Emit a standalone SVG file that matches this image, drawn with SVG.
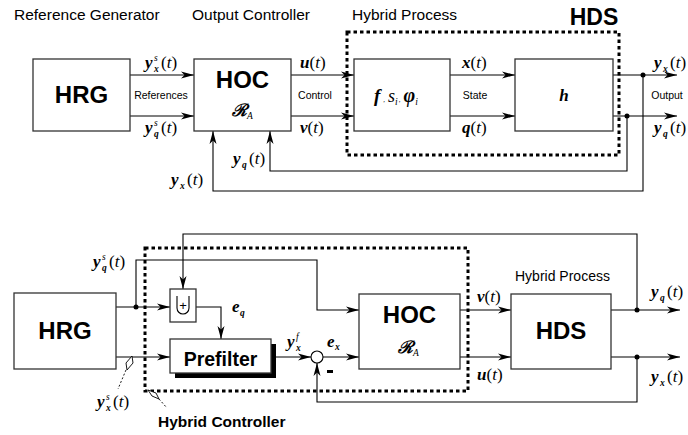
<svg xmlns="http://www.w3.org/2000/svg" width="688" height="435" viewBox="0 0 688 435">
<style>
.box{fill:#fff;stroke:#333;stroke-width:1.3}
.ln{fill:none;stroke:#000;stroke-width:1.1}
.arr{marker-end:url(#ah)}
.dash{fill:none;stroke:#000;stroke-width:3;stroke-dasharray:3.5 3}
.t{font-family:"Liberation Sans",Arial,sans-serif;fill:#000}
.h1{font-family:"Liberation Sans",Arial,sans-serif;font-weight:bold;font-size:24px;text-anchor:middle}
.sm{font-family:"Liberation Sans",Arial,sans-serif;font-size:10.5px;text-anchor:middle}
.m{font-family:"Liberation Serif","Times New Roman",serif;font-size:17px}
.v{font-weight:bold;font-style:italic}
.i{font-style:italic}
.s{font-family:"Liberation Serif","Times New Roman",serif;font-size:9.5px;font-style:italic}
.cal{font-family:"DejaVu Serif","Liberation Serif",serif;font-size:17px;font-weight:bold;font-style:italic}
.dot{fill:#000}
.ptr{fill:#fff;stroke:#000;stroke-width:0.9}
.lead{fill:none;stroke:#000;stroke-width:0.9;stroke-dasharray:2 2}
</style>
<defs>
<marker id="ah" markerWidth="14" markerHeight="8" refX="13" refY="4" orient="auto" markerUnits="userSpaceOnUse">
<path d="M0,0.5 L13,4 L0,7.5 L3.5,4 Z" fill="#000"/>
</marker>
</defs>

<!-- ============ TOP DIAGRAM ============ -->
<g id="titles-top">
<text class="t" x="14" y="20" font-size="15.5">Reference Generator</text>
<text class="t" x="192" y="20" font-size="15.5">Output Controller</text>
<text class="t" x="352" y="20" font-size="15.5">Hybrid Process</text>
<text class="t" x="594" y="25" font-size="23" font-weight="bold" text-anchor="middle">HDS</text>
</g>

<g id="hds-boundary-top">
<rect class="dash" x="347" y="32" width="272" height="123"/>
</g>

<g id="connectors-top">
<line class="ln arr" x1="130" y1="75" x2="194" y2="75"/>
<line class="ln arr" x1="130" y1="116" x2="194" y2="116"/>
<line class="ln arr" x1="291" y1="75" x2="354" y2="75"/>
<line class="ln arr" x1="291" y1="116" x2="354" y2="116"/>
<line class="ln arr" x1="450" y1="75" x2="515" y2="75"/>
<line class="ln arr" x1="450" y1="116" x2="515" y2="116"/>
<line class="ln arr" x1="613" y1="75" x2="677" y2="75"/>
<line class="ln arr" x1="613" y1="116" x2="677" y2="116"/>
<polyline class="ln arr" points="627,116 627,171 270,171 270,131"/>
<polyline class="ln arr" points="643,75 643,191 213,191 213,131"/>
<circle class="dot" cx="643" cy="75" r="2.5"/>
<circle class="dot" cx="627" cy="116" r="2.5"/>
</g>

<g id="hrg-top">
<rect class="box" x="33" y="59" width="97" height="72"/>
<text class="h1" x="81.5" y="103" font-size="23">HRG</text>
</g>
<g id="hoc-top">
<rect class="box" x="194" y="59" width="97" height="72"/>
<text class="h1" x="242.5" y="88">HOC</text>
<text x="232" y="116"><tspan class="cal">ℛ</tspan><tspan class="s" dy="3">A</tspan></text>
</g>
<g id="fsphi-top">
<rect class="box" x="354" y="59" width="96" height="72"/>
<text class="m" x="374" y="102"><tspan class="v" font-size="19">f</tspan><tspan font-size="7" dx="3">,</tspan><tspan dx="3" class="i" font-size="18">s</tspan><tspan class="s" dy="3" font-size="10">i</tspan><tspan font-size="7" dy="-3" dx="1">,</tspan><tspan dx="3" class="v" font-size="20">φ</tspan><tspan class="s" dy="3" font-size="10">i</tspan></text>
</g>
<g id="h-top">
<rect class="box" x="515" y="59" width="98" height="72"/>
<text class="m v" x="564" y="101" text-anchor="middle" font-size="18">h</text>
</g>

<g id="labels-top">
<text class="sm" x="161" y="99">References</text>
<text class="sm" x="315" y="99">Control</text>
<text class="sm" x="475" y="99">State</text>
<text class="sm" x="667" y="99">Output</text>
<!-- y_x^s(t) -->
<text class="m v" x="145" y="68">y</text><text class="s" x="154" y="61">s</text><text class="s v" x="154" y="72">x</text><text class="m" x="161" y="68">(<tspan class="i">t</tspan>)</text>
<!-- y_q^s(t) -->
<text class="m v" x="145" y="133">y</text><text class="s" x="154" y="126">s</text><text class="s v" x="154" y="137">q</text><text class="m" x="161" y="133">(<tspan class="i">t</tspan>)</text>
<text class="m" x="300" y="68"><tspan class="v">u</tspan>(<tspan class="i">t</tspan>)</text>
<text class="m" x="300" y="133"><tspan class="v">v</tspan>(<tspan class="i">t</tspan>)</text>
<text class="m" x="462" y="68"><tspan class="v">x</tspan>(<tspan class="i">t</tspan>)</text>
<text class="m" x="462" y="133"><tspan class="v">q</tspan>(<tspan class="i">t</tspan>)</text>
<!-- y_q(t) left -->
<text class="m v" x="233" y="164">y</text><text class="s v" x="242" y="168">q</text><text class="m" x="249" y="164">(<tspan class="i">t</tspan>)</text>
<text class="m v" x="171" y="185">y</text><text class="s v" x="180" y="189">x</text><text class="m" x="187" y="185">(<tspan class="i">t</tspan>)</text>
<!-- right outputs -->
<text class="m v" x="654" y="68">y</text><text class="s v" x="663" y="72">x</text><text class="m" x="670" y="68">(<tspan class="i">t</tspan>)</text>
<text class="m v" x="654" y="133">y</text><text class="s v" x="663" y="137">q</text><text class="m" x="670" y="133">(<tspan class="i">t</tspan>)</text>
</g>

<!-- ============ BOTTOM DIAGRAM ============ -->
<g id="controller-boundary">
<rect class="dash" x="145" y="248" width="323" height="143"/>
</g>

<g id="connectors-bottom">
<line class="ln arr" x1="116" y1="307" x2="170" y2="307"/>
<polyline class="ln arr" points="136,307 136,260 317,260 317,310 359,310"/>
<polyline class="ln arr" points="637,310 637,234 183,234 183,289"/>
<polyline class="ln arr" points="196,307 221,307 221,339"/>
<line class="ln arr" x1="116" y1="357" x2="170" y2="357"/>
<line class="ln arr" x1="271" y1="357" x2="311" y2="357"/>
<line class="ln arr" x1="323" y1="357" x2="359" y2="357"/>
<polyline class="ln arr" points="637,357 637,402 317,402 317,363"/>
<line class="ln arr" x1="460" y1="310" x2="511" y2="310"/>
<line class="ln arr" x1="460" y1="357" x2="511" y2="357"/>
<line class="ln arr" x1="611" y1="310" x2="680" y2="310"/>
<line class="ln arr" x1="611" y1="357" x2="680" y2="357"/>
<circle class="dot" cx="136" cy="307" r="2.5"/>
<circle class="dot" cx="637" cy="310" r="2.5"/>
<circle class="dot" cx="637" cy="357" r="2.5"/>
</g>

<g id="hrg-bottom">
<rect class="box" x="14" y="293" width="102" height="76"/>
<text class="h1" x="65" y="339">HRG</text>
</g>
<g id="comparator">
<rect class="box" x="170" y="289" width="26" height="33"/>
<path class="ln" d="M177,296 L177,308 A6,6 0 0 0 189,308 L189,296"/>
<text class="t" x="183" y="310" font-size="13" text-anchor="middle">+</text>
</g>
<g id="prefilter">
<rect x="175" y="344" width="101" height="34" fill="#000"/>
<rect class="box" x="170" y="339" width="101" height="34"/>
<text class="t" x="220.5" y="366" font-size="19.5" font-weight="bold" text-anchor="middle">Prefilter</text>
</g>
<g id="sum">
<circle cx="317" cy="357" r="6" fill="#fff" stroke="#000" stroke-width="1.1"/>
</g>
<g id="hoc-bottom">
<rect class="box" x="359" y="294" width="101" height="75"/>
<text class="h1" x="409.5" y="323">HOC</text>
<text x="398" y="353"><tspan class="cal">ℛ</tspan><tspan class="s" dy="3">A</tspan></text>
</g>
<g id="hds-bottom">
<rect class="box" x="511" y="294" width="100" height="75"/>
<text class="h1" x="561" y="339">HDS</text>
</g>

<g id="labels-bottom">
<text class="t" x="515" y="281" font-size="14">Hybrid Process</text>
<text class="t" x="158" y="427" font-size="15.5" font-weight="bold">Hybrid Controller</text>
<!-- pointers -->
<polygon class="ptr" points="132,356 133,363 127,370 126,363"/>
<line class="lead" x1="126" y1="370" x2="118" y2="389"/>
<polygon class="ptr" points="148,390 156,393 159,399 152,396"/>
<line class="lead" x1="159" y1="399" x2="167" y2="408"/>
<!-- y_q^s(t) -->
<text class="m v" x="93" y="267">y</text><text class="s" x="102" y="260">s</text><text class="s v" x="102" y="271">q</text><text class="m" x="109" y="267">(<tspan class="i">t</tspan>)</text>
<!-- y_x^s(t) bottom -->
<text class="m v" x="97" y="407">y</text><text class="s" x="106" y="400">s</text><text class="s v" x="106" y="411">x</text><text class="m" x="113" y="407">(<tspan class="i">t</tspan>)</text>
<!-- e_q -->
<text class="m v" x="232" y="312">e</text><text class="s v" x="240" y="316">q</text>
<!-- y_x^f -->
<text class="m v" x="287" y="347">y</text><text class="s" x="296" y="340">f</text><text class="s v" x="296" y="351">x</text>
<!-- e_x -->
<text class="m v" x="327" y="347">e</text><text class="s v" x="335" y="350">x</text>
<rect x="327" y="370" width="6" height="3" fill="#000"/>
<text class="m" x="477" y="302"><tspan class="v">v</tspan>(<tspan class="i">t</tspan>)</text>
<text class="m" x="477" y="380"><tspan class="v">u</tspan>(<tspan class="i">t</tspan>)</text>
<text class="m v" x="651" y="297">y</text><text class="s v" x="660" y="301">q</text><text class="m" x="667" y="297">(<tspan class="i">t</tspan>)</text>
<text class="m v" x="651" y="382">y</text><text class="s v" x="660" y="386">x</text><text class="m" x="667" y="382">(<tspan class="i">t</tspan>)</text>
</g>
</svg>
